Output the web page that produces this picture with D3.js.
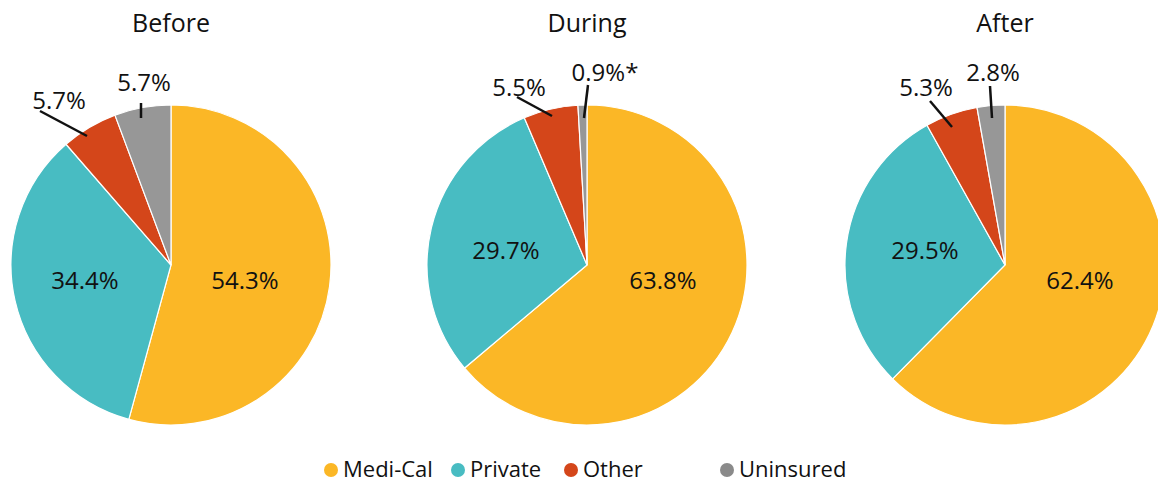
<!DOCTYPE html>
<html>
<head>
<meta charset="utf-8">
<script src="https://cdn.jsdelivr.net/npm/d3@7"></script>
<style>
  body { margin: 0; background: #fff; }
  svg text { font-family: "Open Sans", "Noto Sans", sans-serif; fill: #111; }
</style>
</head>
<body>
<div id="chart"></div>
<script>
const categories = ["Medi-Cal", "Private", "Other", "Uninsured"];
const periods = ["Before", "During", "After"];
const before = [54.3, 34.4, 5.7, 5.7];
const during = [63.8, 29.7, 5.5, 0.9];
const after = [62.4, 29.5, 5.3, 2.8];
const labelText = [
  ["54.3%", "34.4%", "5.7%", "5.7%"],
  ["63.8%", "29.7%", "5.5%", "0.9%*"],
  ["62.4%", "29.5%", "5.3%", "2.8%"]
];
const colors = ["#fbb726", "#48bcc2", "#d4461a", "#979797"];

const w = 1158, h = 484;
const r = 160;
const centers = [171, 587, 1005];
const cy = 265;

// label placement relative to each pie centre
const labelPos = [
  [[74, 16], [-86, 16], [-112, -164], [-27, -182]],
  [[76, 16], [-81, -14], [-68, -177], [18, -192]],
  [[75, 16], [-80, -14], [-79, -177], [-12, -192]]
];
// leader lines for the small slices [x1, y1, x2, y2]
const leaders = [
  [null, null, [-131, -154, -84, -129], [-30, -162, -30, -147]],
  [null, null, [-70, -168, -35, -149], [1, -180, -3, -147]],
  [null, null, [-75, -164, -53, -138], [-15, -179, -13, -147]]
];

const svg = d3.select('#chart')
  .append('svg')
  .attr('width', w)
  .attr('height', h);

const pie = d3.pie().sort(null).value(d => d);
const arc = d3.arc().innerRadius(0).outerRadius(r);

[before, during, after].forEach((vals, p) => {
  const g = svg.append('g')
    .attr('transform', `translate(${centers[p]}, ${cy})`);

  g.append('text')
    .attr('x', 0)
    .attr('y', -233)
    .attr('text-anchor', 'middle')
    .style('font-size', '25px')
    .text(periods[p]);

  g.selectAll('path')
    .data(pie(vals))
    .enter()
    .append('path')
    .attr('d', arc)
    .attr('fill', (d, i) => colors[i])
    .attr('stroke', '#fff')
    .attr('stroke-width', 1.2);

  leaders[p].forEach((l) => {
    if (!l) return;
    g.append('line')
      .attr('x1', l[0]).attr('y1', l[1])
      .attr('x2', l[2]).attr('y2', l[3])
      .attr('stroke', '#111')
      .attr('stroke-width', 2.5);
  });

  labelText[p].forEach((t, i) => {
    g.append('text')
      .attr('x', labelPos[p][i][0])
      .attr('y', labelPos[p][i][1])
      .attr('dy', '0.35em')
      .attr('text-anchor', 'middle')
      .style('font-size', '24px')
      .text(t);
  });
});

// legend
const legendX = [331, 458, 571, 727];
const legend = svg.append('g').attr('transform', 'translate(0, 469)');
categories.forEach((c, i) => {
  legend.append('circle')
    .attr('cx', legendX[i])
    .attr('cy', 1)
    .attr('r', 7)
    .attr('fill', colors[i] === '#979797' ? '#8a8a8a' : colors[i]);
  legend.append('text')
    .attr('x', legendX[i] + 12)
    .attr('y', 0)
    .attr('dy', '0.35em')
    .style('font-size', '22px')
    .text(c);
});
</script>
</body>
</html>
